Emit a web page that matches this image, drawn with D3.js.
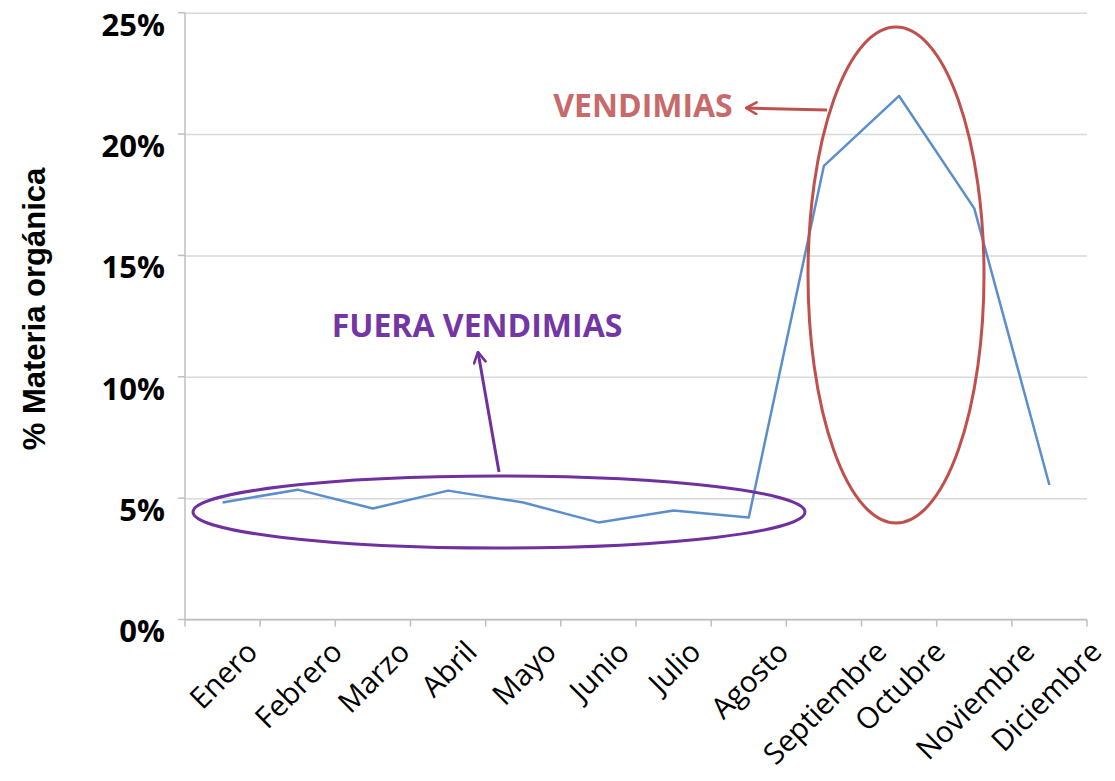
<html>
<script src="https://cdnjs.cloudflare.com/ajax/libs/d3/7.8.5/d3.min.js"></script>
<style>
  body { margin: 0; background: #fff; }
  .grid line { stroke: #d9d9d9; stroke-width: 1.5; }
  .grid path { display: none; }
  .ylab text { font-family: "Open Sans", sans-serif; font-weight: bold; font-size: 31px; fill: #000; }
  .xlab { font-family: "Open Sans", sans-serif; font-size: 29.5px; fill: #000; }
</style>
<body>
<svg width="1115" height="781"></svg>
<script>
var months = ["Enero", "Febrero", "Marzo", "Abril", "Mayo", "Junio", "Julio",
              "Agosto", "Septiembre", "Octubre", "Noviembre", "Diciembre"];
var materia = [0.0482, 0.0535, 0.0457, 0.0531, 0.0482, 0.0400, 0.0449,
               0.0420, 0.1869, 0.2157, 0.1694, 0.0554];
var yTicks = [0, 0.05, 0.10, 0.15, 0.20, 0.25];

var svg = d3.select("svg");
var plotL = 185, plotR = 1087, plotT = 12.7, plotB = 619.5;

var x = d3.scaleBand().domain(months).range([plotL, plotR]).padding(0);
var y = d3.scaleLinear().domain([0, 0.25]).range([plotB, plotT]);

// horizontal grid + y labels
var gy = svg.append("g")
  .attr("class", "grid ylab")
  .attr("transform", "translate(" + plotL + ",0)")
  .call(d3.axisLeft(y).tickValues(yTicks).tickSize(-(plotR - plotL)).tickFormat(d3.format(".0%")));
gy.selectAll("text").attr("x", -20).attr("dy", "0.72em");
gy.selectAll(".tick").filter(function(d) { return d === 0; }).select("line").attr("stroke", "#bfbfbf");
// small outer ticks on y
svg.append("g").selectAll("line").data(yTicks).enter().append("line")
  .attr("x1", plotL - 7).attr("x2", plotL)
  .attr("y1", function(d) { return y(d); }).attr("y2", function(d) { return y(d); })
  .attr("stroke", "#bfbfbf").attr("stroke-width", 1.5);

// axis lines
svg.append("line").attr("x1", plotL).attr("x2", plotL).attr("y1", plotT).attr("y2", plotB)
  .attr("stroke", "#bfbfbf").attr("stroke-width", 1.5);
svg.append("line").attr("x1", plotL).attr("x2", plotR).attr("y1", plotB).attr("y2", plotB)
  .attr("stroke", "#bfbfbf").attr("stroke-width", 1.5);

// x ticks between categories
var edges = months.map(function(m) { return x(m); }).concat([plotR]);
svg.append("g").selectAll("line").data(edges).enter().append("line")
  .attr("x1", function(d) { return d; }).attr("x2", function(d) { return d; })
  .attr("y1", plotB).attr("y2", plotB + 7)
  .attr("stroke", "#bfbfbf").attr("stroke-width", 1.5);

// rotated month labels, centred on each category
var xl = svg.append("g").selectAll("text").data(months).enter().append("text")
  .attr("class", "xlab")
  .attr("text-anchor", "middle")
  .attr("dominant-baseline", "central")
  .text(function(d) { return d; });
xl.attr("transform", function(d) {
  var w = this.getComputedTextLength();
  var h = 24;
  var cx = x(d) + x.bandwidth() / 2;
  if (d === "Diciembre") cx -= 4;
  var cy = 637 + (w + h) * 0.3536;
  return "translate(" + cx + "," + cy + ") rotate(-45)";
});

// y title
svg.append("text")
  .attr("transform", "translate(45,309) rotate(-90)")
  .attr("text-anchor", "middle")
  .style("font-family", "'Liberation Sans', Arial, sans-serif")
  .style("font-weight", "bold")
  .style("font-size", "31px")
  .text("% Materia orgánica");

// data line
var line = d3.line()
  .x(function(d, i) { return x(months[i]) + x.bandwidth() / 2; })
  .y(function(d) { return y(d); });
svg.append("path").datum(materia)
  .attr("d", line)
  .attr("fill", "none")
  .attr("stroke", "#5b8fcc")
  .attr("stroke-width", 2.5)
  .attr("stroke-linejoin", "round");

// markers
var defs = svg.append("defs");
[["arrP", "#7030a0"], ["arrR", "#c0504d"]].forEach(function(a) {
  defs.append("marker").attr("id", a[0])
    .attr("viewBox", "0 0 12 12").attr("refX", 11).attr("refY", 6)
    .attr("markerWidth", 14).attr("markerHeight", 14)
    .attr("markerUnits", "userSpaceOnUse").attr("orient", "auto")
    .append("path").attr("d", "M2,1 L11,6 L2,11")
    .attr("fill", "none").attr("stroke", a[1]).attr("stroke-width", 2.2)
    .attr("stroke-linecap", "round").attr("stroke-linejoin", "round");
});

// fuera vendimias
svg.append("ellipse")
  .attr("cx", 499).attr("cy", 512).attr("rx", 306).attr("ry", 36)
  .attr("fill", "none").attr("stroke", "#7030a0").attr("stroke-width", 3);
svg.append("line")
  .attr("x1", 499).attr("y1", 472).attr("x2", 478).attr("y2", 352)
  .attr("stroke", "#7030a0").attr("stroke-width", 3)
  .attr("marker-end", "url(#arrP)");
svg.append("text")
  .attr("x", 477).attr("y", 337).attr("text-anchor", "middle")
  .style("font-family", "'Open Sans', sans-serif").style("font-weight", "bold")
  .style("font-size", "32px").attr("fill", "#7436a4")
  .text("FUERA VENDIMIAS");

// vendimias
svg.append("ellipse")
  .attr("cx", 896).attr("cy", 275).attr("rx", 88).attr("ry", 248)
  .attr("fill", "none").attr("stroke", "#c0504d").attr("stroke-width", 3);
svg.append("line")
  .attr("x1", 827).attr("y1", 110).attr("x2", 746).attr("y2", 108)
  .attr("stroke", "#c0504d").attr("stroke-width", 3)
  .attr("marker-end", "url(#arrR)");
svg.append("text")
  .attr("x", 643).attr("y", 116.7).attr("text-anchor", "middle")
  .style("font-family", "'Open Sans', sans-serif").style("font-weight", "bold")
  .style("font-size", "32px").attr("fill", "#c86a6a")
  .text("VENDIMIAS");
</script>
</body>
</html>
